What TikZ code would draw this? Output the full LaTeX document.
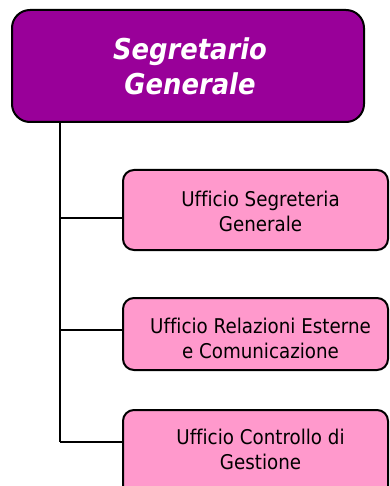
\documentclass[tikz,border=0pt]{standalone}
\usepackage{fontspec}
\setmainfont{DejaVu Sans}[FakeStretch=0.9, Ligatures=NoCommon]
\definecolor{segpurple}{HTML}{990099}
\definecolor{ufpink}{HTML}{FF99CC}
\tikzset{
  topbox/.style={draw=black, line width=2pt, fill=segpurple, rounded corners=18pt, inner sep=0pt},
  ufbox/.style={draw=black, line width=2pt, fill=ufpink, rounded corners=11pt, inner sep=0pt},
  toptext/.style={text=white, align=center, inner sep=0pt, font=\fontsize{28.7}{35}\selectfont\bfseries\itshape},
  uftext/.style={text=black, align=center, inner sep=0pt, font=\fontsize{20.3}{25}\selectfont},
  link/.style={draw=black, line width=2pt}
}
\begin{document}
\begin{tikzpicture}[x=1pt,y=-1pt]
\useasboundingbox (0,0) rectangle (389,486);
\clip (0,0) rectangle (389,486);
\fill[white] (0,0) rectangle (389,486);
% boxes
\node[topbox, minimum width=352pt, minimum height=112pt] (top) at (188,66) {};
\node[toptext] (toplabel) at (190,66) {Segretario\\Generale};
\node[ufbox, minimum width=265pt, minimum height=80pt] (b1) at (255.5,210) {};
\node[uftext] (t1) at (260.5,211) {Ufficio Segreteria\\Generale};
\node[ufbox, minimum width=265pt, minimum height=72pt] (b2) at (255.5,334) {};
\node[uftext] (t2) at (260.5,338) {Ufficio Relazioni Esterne\\e Comunicazione};
\node[ufbox, minimum width=265pt, minimum height=110pt] (b3) at (255.5,465) {};
\node[uftext] (t3) at (260.5,449) {Ufficio Controllo di\\Gestione};
% connectors
\coordinate (j1) at (60,218);
\coordinate (j2) at (60,330);
\coordinate (j3) at (60,442);
\draw[link] (top.south -| j1) -- (j3);
\draw[link] (j1) -- (j1 -| b1.west);
\draw[link] (j2) -- (j2 -| b2.west);
\draw[link] (j3) -- (j3 -| b3.west);
\end{tikzpicture}
\end{document}
